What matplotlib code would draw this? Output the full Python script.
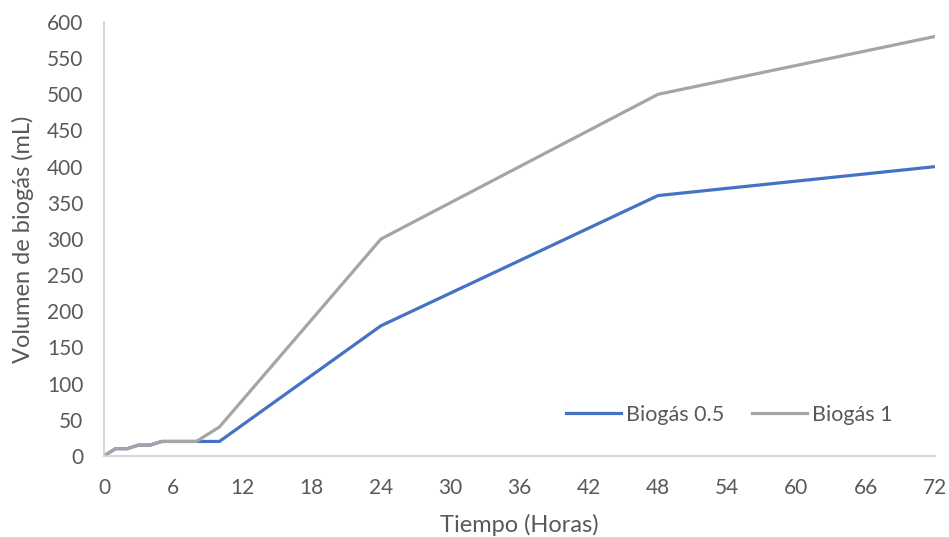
import matplotlib
matplotlib.use("Agg")
import matplotlib.pyplot as plt

hours = [0, 1, 2, 3, 4, 5, 6, 7, 8, 10, 24, 48, 72]
biogas_05 = [0, 10, 10, 15, 15, 20, 20, 20, 20, 20, 180, 360, 400]
biogas_1 = [0, 10, 10, 15, 15, 20, 20, 20, 20, 40, 300, 500, 580]
x_ticks = list(range(0, 73, 6))
y_ticks = list(range(0, 601, 50))

plt.rcParams['font.family'] = ['Lato', 'DejaVu Sans']
txt = '#595959'

fig = plt.figure(figsize=(9.49, 5.37), dpi=100)
ax = fig.add_axes([0.1096, 0.151, 0.8756, 0.808])
ax.plot(hours, biogas_05, color='#4472C4', lw=2.3, label='Biogás 0.5', solid_joinstyle='round')
ax.plot(hours, biogas_1, color='#A5A5A5', lw=2.3, label='Biogás 1', solid_joinstyle='round')
ax.set_xlim(0, 72)
ax.set_ylim(0, 600)
ax.set_xticks(x_ticks)
ax.set_yticks(y_ticks)
ax.tick_params(length=0, labelsize=15, colors=txt)
ax.tick_params(axis='y', pad=15)
ax.tick_params(axis='x', pad=16)
for s in ['top', 'right']:
    ax.spines[s].set_visible(False)
for s in ['left', 'bottom']:
    ax.spines[s].set_color('#D0D0D0')
    ax.spines[s].set_linewidth(1.2)
ax.set_xlabel('Tiempo (Horas)', fontsize=17, color=txt, labelpad=11)
ax.set_ylabel('Volumen de biogás (mL)', fontsize=17, color=txt, labelpad=9)
leg = ax.legend(loc='center', bbox_to_anchor=(0.752, 0.0945), ncol=2, frameon=False,
                fontsize=15.5, handlelength=2.55, columnspacing=1.3, handletextpad=0.23)
for t in leg.get_texts():
    t.set_color(txt)
fig.savefig('out.png', dpi=100)
